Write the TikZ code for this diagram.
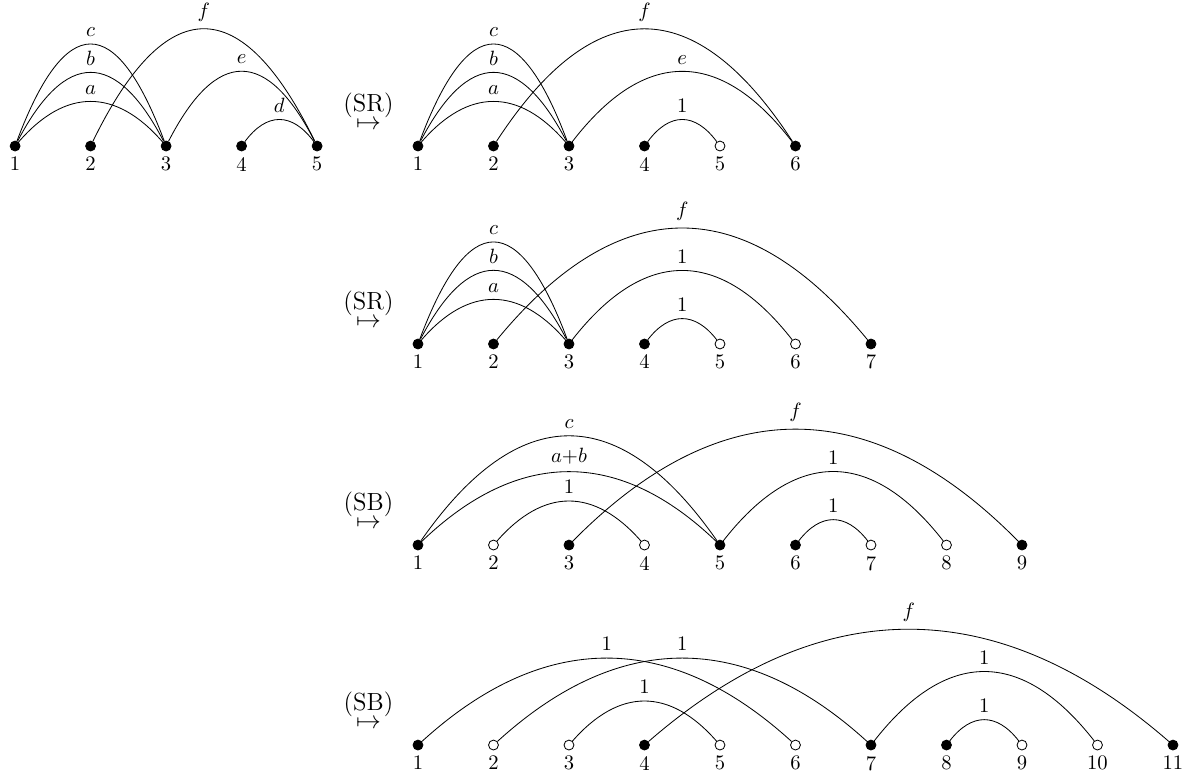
\documentclass[tikz,border=0pt]{standalone}
\usepackage{amssymb}
\usepackage{amsmath}
\usepackage{tikz}
\usetikzlibrary{shapes,arrows}
\tikzstyle{vertex} = [draw, circle, fill=black, inner sep=0pt, minimum size=4.8pt]
\tikzstyle{hole} = [draw, circle, fill=white, inner sep=0pt, minimum size=4.8pt]
\tikzstyle{rewrite} = [inner sep=0pt, align=center, font=\large]

\begin{document}
\begin{tikzpicture}[auto, node distance=1.285cm, x=1.285cm, y=1.285cm, label distance=-0.8pt]
    \useasboundingbox (0,0) rectangle (15.735,-10.331);

    % starting graph
    \node [vertex, label=below:1] (u1) at (0.2,-1.934) {};
    \node [vertex, right of=u1, label=below:2] (u2) {};
    \node [vertex, right of=u2, label=below:3] (u3) {};
    \node [vertex, right of=u3, label=below:4] (u4) {};
    \node [vertex, right of=u4, label=below:5] (u5) {};
    \draw (u1) .. controls +(0.667,0.77) and +(-0.667,0.77) .. node[above] {$a$} (u3);
    \draw (u1) .. controls +(0.667,1.28) and +(-0.667,1.28) .. node[above] {$b$} (u3);
    \draw (u1) .. controls +(0.667,1.78) and +(-0.667,1.78) .. node[above] {$c$} (u3);
    \draw (u2) .. controls +(1,2.05) and +(-1,2.05) .. node[above] {$f$} (u5);
    \draw (u3) .. controls +(0.667,1.3) and +(-0.667,1.3) .. node[above] {$e$} (u5);
    \draw (u4) .. controls +(0.333,0.45) and +(-0.333,0.45) .. node[above] {$d$} (u5);

    % first step
    \node [rewrite] (sr1) at (4.88,-1.475) {(SR)\\[-5.5pt]$\mapsto$};
    \node [vertex, label=below:1] (v1) at (5.536,-1.934) {};
    \node [vertex, right of=v1, label=below:2] (v2) {};
    \node [vertex, right of=v2, label=below:3] (v3) {};
    \node [vertex, right of=v3, label=below:4] (v4) {};
    \node [hole, right of=v4, label=below:5] (v5) {};
    \node [vertex, right of=v5, label=below:6] (v6) {};
    \draw (v1) .. controls +(0.667,0.77) and +(-0.667,0.77) .. node[above] {$a$} (v3);
    \draw (v1) .. controls +(0.667,1.28) and +(-0.667,1.28) .. node[above] {$b$} (v3);
    \draw (v1) .. controls +(0.667,1.78) and +(-0.667,1.78) .. node[above] {$c$} (v3);
    \draw (v2) .. controls +(1.333,2.05) and +(-1.333,2.05) .. node[above] {$f$} (v6);
    \draw (v3) .. controls +(1,1.3) and +(-1,1.3) .. node[above] {$e$} (v6);
    \draw (v4) .. controls +(0.333,0.45) and +(-0.333,0.45) .. node[above] {$1$} (v5);

    % second step
    \node [rewrite] (sr2) at (4.88,-4.097) {(SR)\\[-5.5pt]$\mapsto$};
    \node [vertex, label=below:1] (w1) at (5.536,-4.556) {};
    \node [vertex, right of=w1, label=below:2] (w2) {};
    \node [vertex, right of=w2, label=below:3] (w3) {};
    \node [vertex, right of=w3, label=below:4] (w4) {};
    \node [hole, right of=w4, label=below:5] (w5) {};
    \node [hole, right of=w5, label=below:6] (w6) {};
    \node [vertex, right of=w6, label=below:7] (w7) {};
    \draw (w1) .. controls +(0.667,0.77) and +(-0.667,0.77) .. node[above] {$a$} (w3);
    \draw (w1) .. controls +(0.667,1.28) and +(-0.667,1.28) .. node[above] {$b$} (w3);
    \draw (w1) .. controls +(0.667,1.78) and +(-0.667,1.78) .. node[above] {$c$} (w3);
    \draw (w2) .. controls +(1.667,2.03) and +(-1.667,2.03) .. node[above] {$f$} (w7);
    \draw (w3) .. controls +(1,1.28) and +(-1,1.28) .. node[above] {$1$} (w6);
    \draw (w4) .. controls +(0.333,0.43) and +(-0.333,0.43) .. node[above] {$1$} (w5);

    % third step
    \node [rewrite] (sb1) at (4.88,-6.760) {(SB)\\[-5.5pt]$\mapsto$};
    \node [vertex, label=below:1] (x1) at (5.536,-7.219) {};
    \node [hole, right of=x1, label=below:2] (x2) {};
    \node [vertex, right of=x2, label=below:3] (x3) {};
    \node [hole, right of=x3, label=below:4] (x4) {};
    \node [vertex, right of=x4, label=below:5] (x5) {};
    \node [vertex, right of=x5, label=below:6] (x6) {};
    \node [hole, right of=x6, label=below:7] (x7) {};
    \node [hole, right of=x7, label=below:8] (x8) {};
    \node [vertex, right of=x8, label=below:9] (x9) {};
    \draw (x1) .. controls +(1.333,1.91) and +(-1.333,1.91) .. node[above] {$c$} (x5);
    \draw (x1) .. controls +(1.333,1.28) and +(-1.333,1.28) .. node[above] {$a{+}b$} (x5);
    \draw (x2) .. controls +(0.667,0.76) and +(-0.667,0.76) .. node[above] {$1$} (x4);
    \draw (x3) .. controls +(2,2.03) and +(-2,2.03) .. node[above] {$f$} (x9);
    \draw (x5) .. controls +(1,1.28) and +(-1,1.28) .. node[above] {$1$} (x8);
    \draw (x6) .. controls +(0.333,0.43) and +(-0.333,0.43) .. node[above] {$1$} (x7);

    % fourth step
    \node [rewrite] (sb2) at (4.88,-9.409) {(SB)\\[-5.5pt]$\mapsto$};
    \node [vertex, label=below:1] (y1) at (5.536,-9.868) {};
    \node [hole, right of=y1, label=below:2] (y2) {};
    \node [hole, right of=y2, label=below:3] (y3) {};
    \node [vertex, right of=y3, label=below:4] (y4) {};
    \node [hole, right of=y4, label=below:5] (y5) {};
    \node [hole, right of=y5, label=below:6] (y6) {};
    \node [vertex, right of=y6, label=below:7] (y7) {};
    \node [vertex, right of=y7, label=below:8] (y8) {};
    \node [hole, right of=y8, label=below:9] (y9) {};
    \node [hole, right of=y9, label=below:10] (y10) {};
    \node [vertex, right of=y10, label=below:11] (y11) {};
    \draw (y1) .. controls +(1.667,1.52) and +(-1.667,1.52) .. node[above] {$1$} (y6);
    \draw (y2) .. controls +(1.667,1.52) and +(-1.667,1.52) .. node[above] {$1$} (y7);
    \draw (y3) .. controls +(0.667,0.76) and +(-0.667,0.76) .. node[above] {$1$} (y5);
    \draw (y4) .. controls +(2.333,2.03) and +(-2.333,2.03) .. node[above] {$f$} (y11);
    \draw (y7) .. controls +(1,1.28) and +(-1,1.28) .. node[above] {$1$} (y10);
    \draw (y8) .. controls +(0.333,0.43) and +(-0.333,0.43) .. node[above] {$1$} (y9);
\end{tikzpicture}
\end{document}
